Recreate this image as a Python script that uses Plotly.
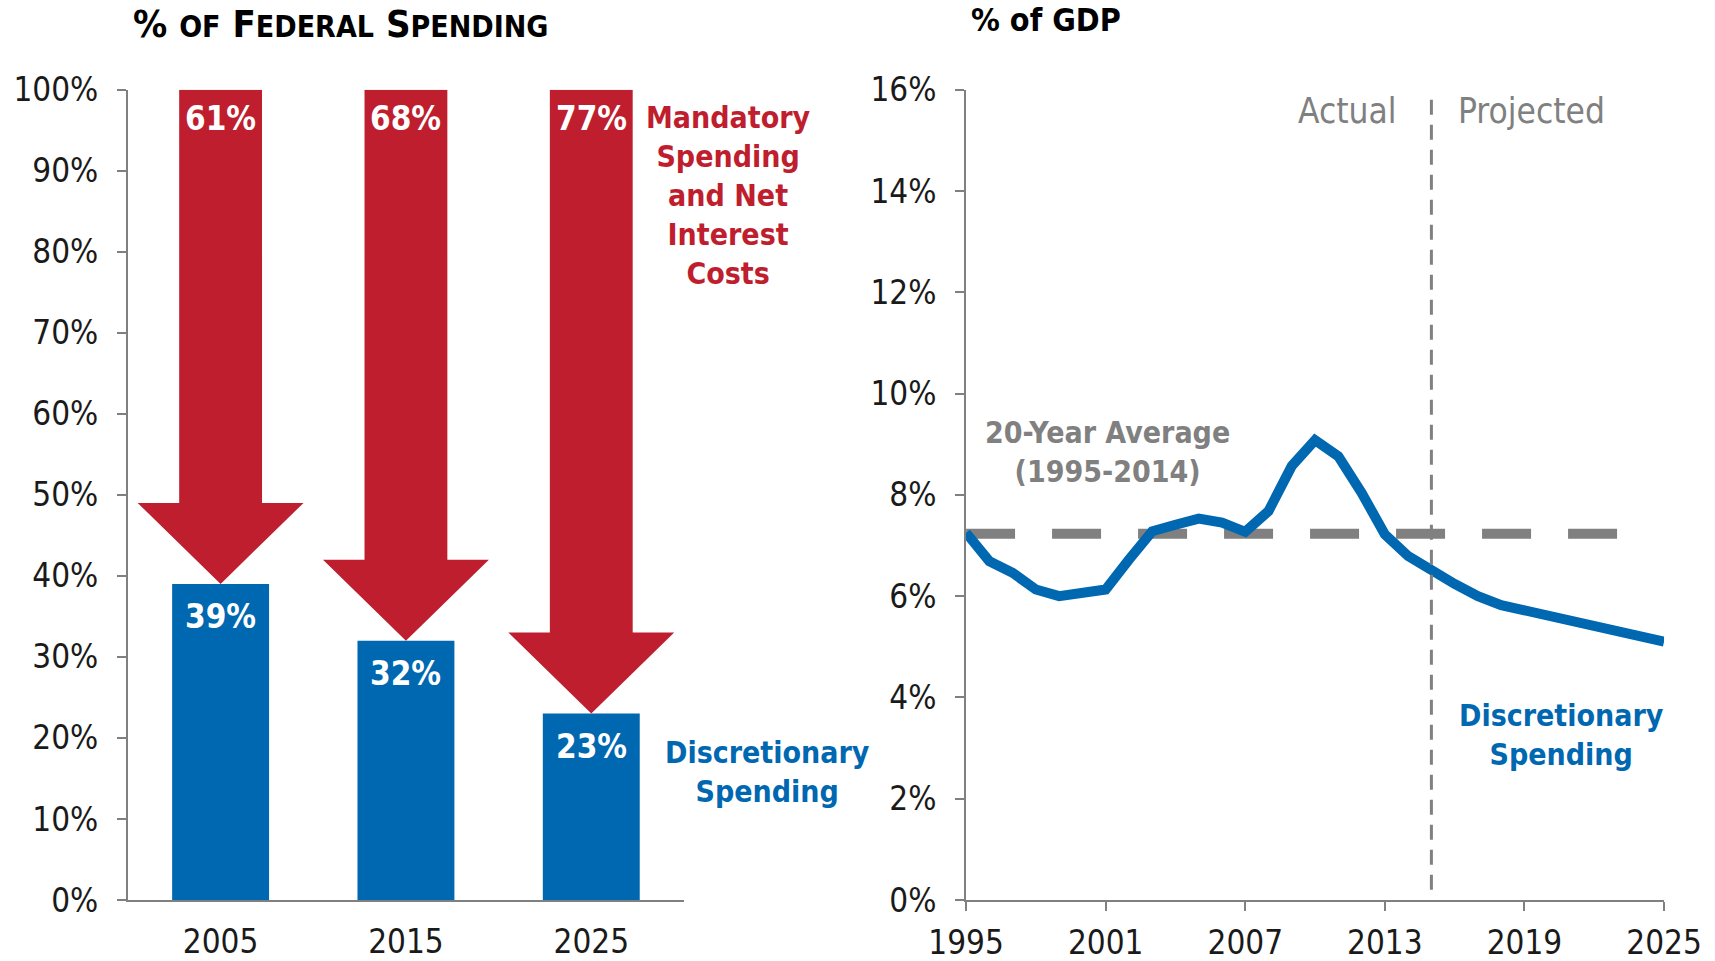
import plotly.graph_objects as go

# left panel: share of federal spending
years_bar = ["2005", "2015", "2025"]
discretionary_share = [39, 32, 23]
mandatory_share = [61, 68, 77]

# right panel: discretionary spending, % of GDP
years_line = list(range(1995, 2026))
discretionary_gdp = [7.25, 6.69, 6.46, 6.13, 6.00, 6.05, 6.13, 6.72, 7.28, 7.41,
                     7.53, 7.45, 7.27, 7.68, 8.57, 9.08, 8.76, 8.04, 7.22, 6.79,
                     6.49, 6.24, 6.00, 5.82, 5.72, 5.61, 5.51, 5.42, 5.29, 5.16, 5.10]
avg_value = 7.23
avg_years = [1995, 2023.2]
split_year = 2015

RED = "#BE1E2D"
BLUE = "#0067B1"
GRAY = "#808080"
FONT = "DejaVu Sans Condensed, Liberation Sans Narrow, Arial Narrow, sans-serif"

BAR_W = 0.523
SHAFT = 0.447 / 2
HEAD = 0.895 / 2
HEAD_H = 10

fig = go.Figure()

fig.add_trace(go.Bar(x=[0, 1, 2], y=discretionary_share, width=BAR_W,
                     marker=dict(color=BLUE, line=dict(width=0)),
                     xaxis="x", yaxis="y", hoverinfo="skip"))

# arrows for mandatory spending, built from the bar values
for i, v in enumerate(discretionary_share):
    top = v + mandatory_share[i]
    base = v + HEAD_H
    xs = [i - SHAFT, i + SHAFT, i + SHAFT, i + HEAD, i, i - HEAD, i - SHAFT, i - SHAFT]
    ys = [top, top, base, base, v, base, base, top]
    fig.add_trace(go.Scatter(x=xs, y=ys, fill="toself", fillcolor=RED, mode="lines",
                             line=dict(width=0, color=RED), xaxis="x", yaxis="y",
                             hoverinfo="skip"))

fig.add_trace(go.Scatter(x=avg_years, y=[avg_value, avg_value], mode="lines",
                         line=dict(color=GRAY, width=10, dash="49px,37px"),
                         xaxis="x2", yaxis="y2", hoverinfo="skip"))
fig.add_trace(go.Scatter(x=years_line, y=discretionary_gdp, mode="lines",
                         line=dict(color=BLUE, width=10),
                         xaxis="x2", yaxis="y2"))

fig.add_shape(type="line", xref="x2", yref="y2", x0=split_year, x1=split_year,
              y0=0.2, y1=16, line=dict(color=GRAY, width=3, dash="15px,10px"))

ann = []
for i, v in enumerate(discretionary_share):
    ann.append(dict(x=i, y=v - 4, xref="x", yref="y", text=f"<b>{v}%</b>",
                    showarrow=False, font=dict(color="white", size=33, family=FONT)))
    ann.append(dict(x=i, y=96.5, xref="x", yref="y", text=f"<b>{mandatory_share[i]}%</b>",
                    showarrow=False, font=dict(color="white", size=33, family=FONT)))

ann += [
    dict(x=0.4248, y=86.9, xref="paper", yref="y", showarrow=False,
         text="<b>Mandatory<br>Spending<br>and Net<br>Interest<br>Costs</b>",
         font=dict(color=RED, size=30, family=FONT)),
    dict(x=0.4478, y=15.8, xref="paper", yref="y", showarrow=False,
         text="<b>Discretionary<br>Spending</b>",
         font=dict(color=BLUE, size=30, family=FONT)),
    dict(x=2020.6, y=3.26, xref="x2", yref="y2", showarrow=False,
         text="<b>Discretionary<br>Spending</b>",
         font=dict(color=BLUE, size=30, family=FONT)),
    dict(x=2001.1, y=8.85, xref="x2", yref="y2", showarrow=False,
         text="<b>20-Year Average<br>(1995-2014)</b>",
         font=dict(color=GRAY, size=30, family=FONT)),
    dict(x=split_year, y=15.57, xref="x2", yref="y2", showarrow=False,
         xanchor="right", xshift=-32, text="Actual",
         font=dict(color=GRAY, size=35, family=FONT)),
    dict(x=split_year, y=15.57, xref="x2", yref="y2", showarrow=False,
         xanchor="left", xshift=25, text="Projected",
         font=dict(color=GRAY, size=35, family=FONT)),
    dict(x=0.0765, y=0.975, xref="paper", yref="paper", showarrow=False,
         xanchor="left", yanchor="middle",
         text="<b>% <span style='font-size:30px'>OF</span> F<span style='font-size:30px'>EDERAL</span>"
              " S<span style='font-size:30px'>PENDING</span></b>",
         font=dict(color="black", size=38, family=FONT)),
    dict(x=0.565, y=0.979, xref="paper", yref="paper", showarrow=False,
         xanchor="left", yanchor="middle", text="<b>% of GDP</b>",
         font=dict(color="black", size=32, family=FONT)),
]

tick_font = dict(size=33, color="#1a1a1a", family=FONT)
ydom = [0.0635, 0.9067]

fig.update_layout(
    width=1715, height=961,
    margin=dict(l=0, r=0, t=0, b=0, autoexpand=False),
    plot_bgcolor="white", paper_bgcolor="white",
    showlegend=False,
    annotations=ann,
    xaxis=dict(domain=[0.0746, 0.3988], range=[-0.5, 2.5], tickvals=[0, 1, 2],
               ticktext=years_bar, showline=True, linecolor=GRAY, linewidth=2,
               ticks="", showgrid=False, zeroline=False, tickfont=tick_font,
               ticklabelstandoff=11, automargin=False),
    yaxis=dict(domain=ydom, range=[0, 100], dtick=10, ticksuffix="%",
               showline=True, linecolor=GRAY, linewidth=2, ticks="outside",
               ticklen=9, tickcolor=GRAY, tickwidth=2, showgrid=False,
               zeroline=False, tickfont=tick_font, ticklabelstandoff=12,
               automargin=False),
    xaxis2=dict(domain=[0.5633, 0.9703], range=[1995, 2025], dtick=6, tick0=1995,
                showline=True, linecolor=GRAY, linewidth=2, ticks="outside",
                ticklen=9, tickcolor=GRAY, tickwidth=2, showgrid=False,
                zeroline=False, tickfont=tick_font, ticklabelstandoff=3,
                anchor="y2", automargin=False),
    yaxis2=dict(domain=ydom, range=[0, 16], dtick=2, ticksuffix="%",
                showline=True, linecolor=GRAY, linewidth=2, ticks="outside",
                ticklen=9, tickcolor=GRAY, tickwidth=2, showgrid=False,
                zeroline=False, tickfont=tick_font, ticklabelstandoff=12,
                anchor="x2", automargin=False),
)

# the page body has a default 8px margin; drop it so the figure fills the window
fig.write_html("out.html", config={"displayModeBar": False},
               post_script="document.body.style.margin = '0';")
